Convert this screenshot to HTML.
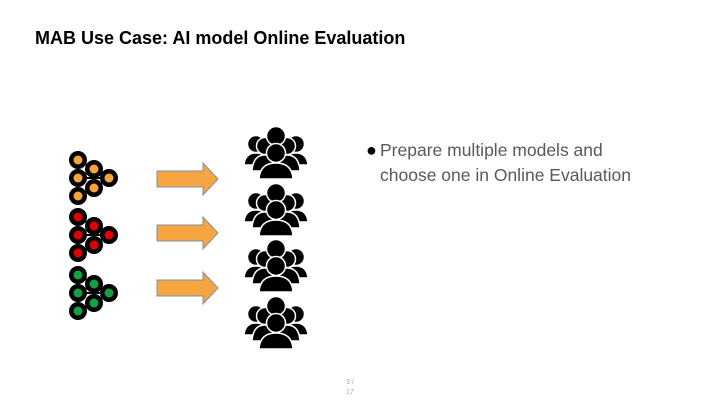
<!DOCTYPE html>
<html><head><style>
body{margin:0;width:720px;height:405px;background:#fff;position:relative;overflow:hidden;font-family:"Liberation Sans",sans-serif}
.t{position:absolute;left:35px;top:28px;font-size:18px;font-weight:bold;color:#000}
.b{position:absolute;left:366px;top:138px;font-size:17.5px;color:#595959;line-height:25px}
.pn{position:absolute;left:346px;top:378px;font-size:7px;color:#aaa;line-height:10px}
svg{position:absolute;left:0;top:0}
</style></head><body>
<div class="t">MAB Use Case: AI model Online Evaluation</div>
<div class="b"><span style="color:#000;font-size:18px;display:inline-block;width:14px">●</span>Prepare multiple models and<br><span style="padding-left:14px">choose one in Online Evaluation</span></div>
<div class="pn">3 /<br>17</div>
<svg width="720" height="405">
<defs>
<g id="net">
<path d="M0,0 L16,9 L0,18 L31,18 L16,28 L0,36 M0,18 L16,9" stroke="#000" stroke-width="2" fill="none"/>
<circle cx="0" cy="0" r="9"/><circle cx="16" cy="9" r="9"/><circle cx="0" cy="18" r="9"/>
<circle cx="31" cy="18" r="9"/><circle cx="16" cy="28" r="9"/><circle cx="0" cy="36" r="9"/>
</g>
<g id="ppl" stroke="#fff" stroke-width="1.5" fill="#000">
<circle cx="9" cy="17" r="8.5"/><path d="M-3,38 Q-2,26 9,26 Q20,26 21,38 Z"/>
<circle cx="49" cy="17" r="8.5"/><path d="M37,38 Q38,26 49,26 Q60,26 61,38 Z"/>
<circle cx="18" cy="19" r="8.5"/><circle cx="40" cy="19" r="8.5"/>
<circle cx="29" cy="9" r="9.5"/>
<path d="M5,44 Q6,28 18,28 Q30,28 31,44 Z"/><path d="M27,44 Q28,28 40,28 Q52,28 53,44 Z"/>
<circle cx="29" cy="26" r="9.5"/>
<path d="M12,52 Q13,36 29,36 Q45,36 46,52 Z"/>
</g>
<g id="arr"><path d="M157,-8 H203 V-16 L218,0 L203,16 V8 H157 Z" fill="#f7a540" stroke="#7f8fa6" stroke-width="1"/></g>
</defs>
<g fill="#000"><use href="#net" x="78" y="160"/><use href="#net" x="78" y="217"/><use href="#net" x="78" y="275"/></g>
<g fill="#f5a33a"><circle cx="78" cy="160" r="4.5"/><circle cx="94" cy="169" r="4.5"/><circle cx="78" cy="178" r="4.5"/><circle cx="109" cy="178" r="4.5"/><circle cx="94" cy="188" r="4.5"/><circle cx="78" cy="196" r="4.5"/></g>
<g fill="#e00000"><circle cx="78" cy="217" r="4.5"/><circle cx="94" cy="226" r="4.5"/><circle cx="78" cy="235" r="4.5"/><circle cx="109" cy="235" r="4.5"/><circle cx="94" cy="245" r="4.5"/><circle cx="78" cy="253" r="4.5"/></g>
<g fill="#10a040"><circle cx="78" cy="275" r="4.5"/><circle cx="94" cy="284" r="4.5"/><circle cx="78" cy="293" r="4.5"/><circle cx="109" cy="293" r="4.5"/><circle cx="94" cy="303" r="4.5"/><circle cx="78" cy="311" r="4.5"/></g>
<use href="#arr" y="179"/><use href="#arr" y="233"/><use href="#arr" y="288"/>
<use href="#ppl" x="247" y="127"/><use href="#ppl" x="247" y="184"/><use href="#ppl" x="247" y="240"/><use href="#ppl" x="247" y="297"/>
</svg>
</body></html>
